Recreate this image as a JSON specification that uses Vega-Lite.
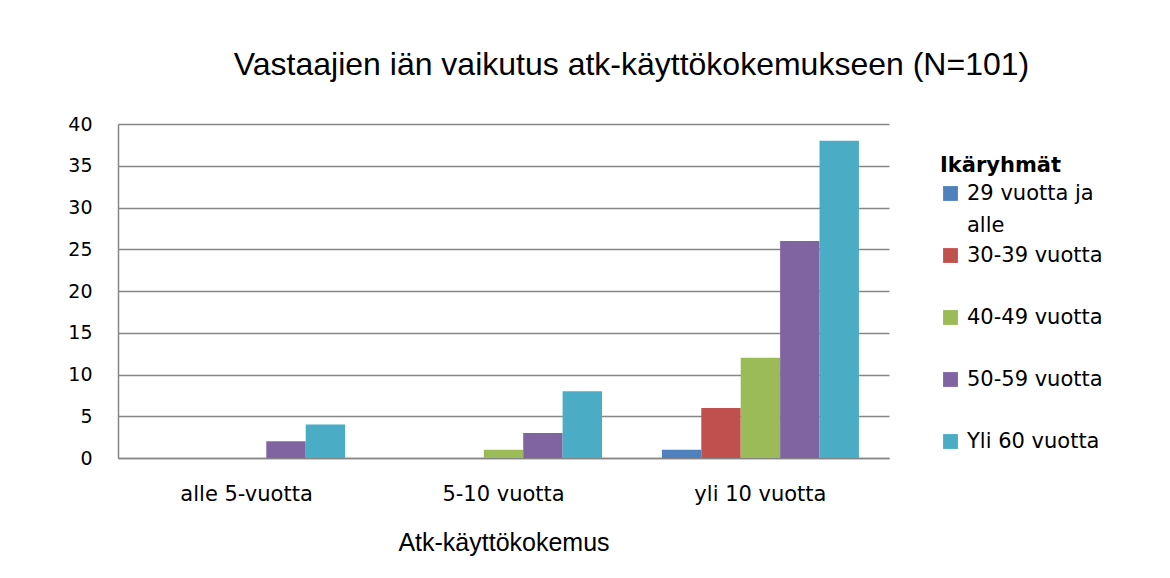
{
  "$schema": "https://vega.github.io/schema/vega-lite/v6.json",
  "autosize": "none",
  "width": 771,
  "height": 334,
  "padding": {"left": 118, "top": 124, "right": 281, "bottom": 120},
  "background": "white",
  "title": {
    "text": "Vastaajien iän vaikutus atk-käyttökokemukseen (N=101)",
    "font": "Liberation Sans",
    "fontSize": 32,
    "fontWeight": "normal",
    "color": "#000000",
    "anchor": "middle",
    "dx": 128,
    "offset": 33
  },
  "data": {
    "values": [
      {"kokemus": "alle 5-vuotta", "ika": "29 vuotta ja alle", "n": 0},
      {"kokemus": "alle 5-vuotta", "ika": "30-39 vuotta", "n": 0},
      {"kokemus": "alle 5-vuotta", "ika": "40-49 vuotta", "n": 0},
      {"kokemus": "alle 5-vuotta", "ika": "50-59 vuotta", "n": 2},
      {"kokemus": "alle 5-vuotta", "ika": "Yli 60 vuotta", "n": 4},
      {"kokemus": "5-10 vuotta", "ika": "29 vuotta ja alle", "n": 0},
      {"kokemus": "5-10 vuotta", "ika": "30-39 vuotta", "n": 0},
      {"kokemus": "5-10 vuotta", "ika": "40-49 vuotta", "n": 1},
      {"kokemus": "5-10 vuotta", "ika": "50-59 vuotta", "n": 3},
      {"kokemus": "5-10 vuotta", "ika": "Yli 60 vuotta", "n": 8},
      {"kokemus": "yli 10 vuotta", "ika": "29 vuotta ja alle", "n": 1},
      {"kokemus": "yli 10 vuotta", "ika": "30-39 vuotta", "n": 6},
      {"kokemus": "yli 10 vuotta", "ika": "40-49 vuotta", "n": 12},
      {"kokemus": "yli 10 vuotta", "ika": "50-59 vuotta", "n": 26},
      {"kokemus": "yli 10 vuotta", "ika": "Yli 60 vuotta", "n": 38}
    ]
  },
  "mark": {"type": "bar"},
  "encoding": {
    "x": {
      "field": "kokemus",
      "type": "nominal",
      "sort": ["alle 5-vuotta", "5-10 vuotta", "yli 10 vuotta"],
      "scale": {"paddingInner": 0.233, "paddingOuter": 0.117},
      "axis": {
        "title": "Atk-käyttökokemus",
        "titleFont": "Liberation Sans",
        "titleFontSize": 25,
        "titleFontWeight": "normal",
        "titleColor": "#000000",
        "titlePadding": 26,
        "labelFont": "DejaVu Sans",
        "labelFontSize": 21,
        "labelColor": "#000000",
        "labelAngle": 0,
        "labelPadding": 25,
        "ticks": false,
        "domainColor": "#868686",
        "domainWidth": 1.5
      }
    },
    "xOffset": {
      "field": "ika",
      "type": "nominal",
      "sort": ["29 vuotta ja alle", "30-39 vuotta", "40-49 vuotta", "50-59 vuotta", "Yli 60 vuotta"],
      "scale": {"paddingInner": 0, "paddingOuter": 0}
    },
    "y": {
      "field": "n",
      "type": "quantitative",
      "scale": {"domain": [0, 40]},
      "axis": {
        "title": null,
        "values": [0, 5, 10, 15, 20, 25, 30, 35, 40],
        "labelFont": "DejaVu Sans",
        "labelFontSize": 19,
        "labelColor": "#000000",
        "labelPadding": 26,
        "ticks": false,
        "grid": true,
        "gridColor": "#868686",
        "gridWidth": 1.5,
        "domainColor": "#868686",
        "domainWidth": 1.5
      }
    },
    "color": {
      "field": "ika",
      "type": "nominal",
      "sort": ["29 vuotta ja alle", "30-39 vuotta", "40-49 vuotta", "50-59 vuotta", "Yli 60 vuotta"],
      "scale": {
        "domain": ["29 vuotta ja alle", "30-39 vuotta", "40-49 vuotta", "50-59 vuotta", "Yli 60 vuotta"],
        "range": ["#4F81BD", "#C0504D", "#9BBB59", "#8064A2", "#4BACC6"]
      },
      "legend": {
        "title": "Ikäryhmät",
        "orient": "none",
        "legendX": 822,
        "legendY": 31,
        "titleFont": "DejaVu Sans",
        "titleFontSize": 21,
        "titleFontWeight": "bold",
        "titleColor": "#000000",
        "titlePadding": 7,
        "labelFont": "DejaVu Sans",
        "labelFontSize": 21,
        "labelColor": "#000000",
        "labelOffset": 6,
        "labelBaseline": "middle",
        "labelExpr": "datum.label == '29 vuotta ja alle' ? ['29 vuotta ja', 'alle'] : datum.label",
        "symbolType": "square",
        "symbolSize": 220,
        "symbolStrokeWidth": 0,
        "gridAlign": "all",
        "rowPadding": 8
      }
    }
  },
  "config": {
    "view": {"stroke": null},
    "axis": {"gridOpacity": 1},
    "style": {"guide-label": {"lineHeight": 32}}
  }
}
